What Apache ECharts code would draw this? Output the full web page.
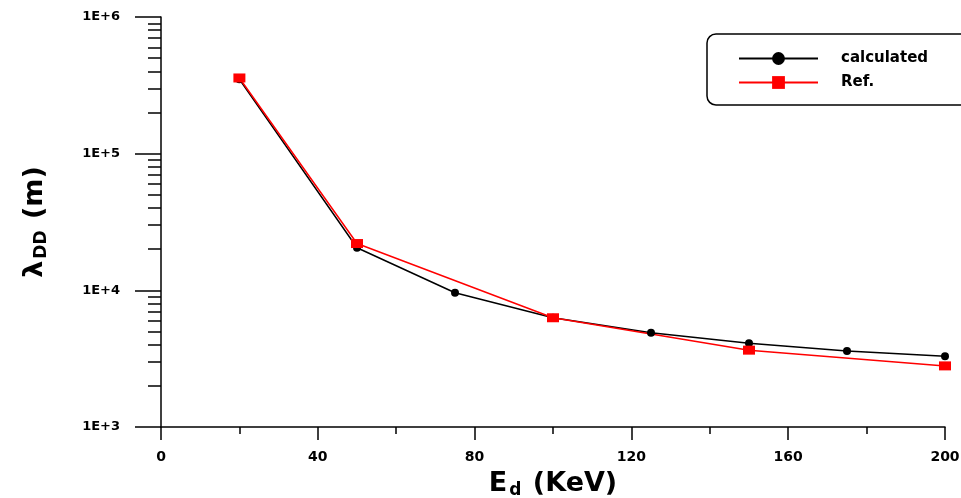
<!DOCTYPE html>
<html>
<head>
<meta charset="utf-8">
<script src="https://cdn.jsdelivr.net/npm/echarts@6/dist/echarts.min.js"></script>
<style>
  html, body {margin: 0; padding: 0; background: #fff;}
  #chart {width: 961px; height: 498px;}
</style>
</head>
<body>
<div id="chart"></div>
<script>
// energy (KeV) and lambda_DD (m)
const calcE = [20, 50, 75, 100, 125, 150, 175, 200];
const calcVal = [3.5e5, 2.05e4, 9.6e3, 6.3e3, 4.9e3, 4.1e3, 3.6e3, 3.3e3];
const refE = [20, 50, 100, 150, 200];
const refVal = [3.58e5, 2.2e4, 6.3e3, 3.65e3, 2.8e3];
const seriesNames = ['calculated', 'Ref.'];

// minor ticks of the log axis, 2..9 in each decade (log10 space)
const minorLog = [];
for (let d = 3; d < 6; d++) {
  for (let k = 2; k <= 9; k++) minorLog.push(d + Math.log10(k));
}

const font = 'DejaVu Sans';
const nameRich = {
  a: {fontFamily: font, fontWeight: 'bold', fontSize: 27, color: '#000', lineHeight: 32},
  b: {fontFamily: font, fontWeight: 'bold', fontSize: 17, color: '#000', lineHeight: 17, padding: [13, 2, 0, 2]}
};
const chart = echarts.init(document.getElementById('chart'));
chart.setOption({
  animation: false,
  grid: {left: 161, right: 16, top: 17, bottom: 71, outerBoundsMode: 'none'},
  legend: {
    orient: 'vertical',
    left: 707, top: 34,
    padding: [17, 80, 15, 31],
    itemWidth: 79, itemHeight: 16, itemGap: 9,
    borderColor: '#000', borderWidth: 1.5, borderRadius: 9,
    textStyle: {fontFamily: font, fontWeight: 'bold', fontSize: 15, color: '#000', padding: [0, 0, 0, 18]},
    data: seriesNames
  },
  xAxis: {
    type: 'value', min: 0, max: 200, interval: 40,
    name: '{a|E}{b|d}{a| (KeV)}',
    nameLocation: 'middle', nameGap: 38,
    nameTextStyle: {rich: nameRich},
    axisLine: {lineStyle: {color: '#000', width: 1.5}},
    axisTick: {length: 13, lineStyle: {width: 1.5}},
    minorTick: {show: true, splitNumber: 2, length: 7, lineStyle: {color: '#000', width: 1.5}},
    axisLabel: {margin: 23, fontFamily: font, fontWeight: 'bold', fontSize: 14, color: '#000'},
    splitLine: {show: false}
  },
  yAxis: [{
    type: 'log', logBase: 10, min: 1000, max: 1e6,
    name: '{a|λ}{b|DD}{a| (m)}',
    nameLocation: 'middle', nameRotate: 90, nameGap: 110,
    nameTextStyle: {rich: nameRich},
    axisLine: {lineStyle: {color: '#000', width: 1.5}},
    axisTick: {length: 26, lineStyle: {width: 1.5}},
    axisLabel: {
      margin: 41, fontFamily: font, fontWeight: 'bold', fontSize: 13, color: '#000',
      formatter: v => '1E+' + Math.round(Math.log10(v))
    },
    splitLine: {show: false}
  }, {
    // overlay axis only for the minor log ticks
    type: 'value', min: 3, max: 6, position: 'left',
    axisLine: {show: false},
    axisTick: {show: true, length: 13, customValues: minorLog, lineStyle: {color: '#000', width: 1.5}},
    axisLabel: {show: false},
    splitLine: {show: false}
  }],
  series: [{
    name: seriesNames[0], type: 'line',
    data: calcE.map((e, i) => [e, calcVal[i]]),
    symbol: 'circle', symbolSize: 8,
    itemStyle: {color: '#000'},
    lineStyle: {color: '#000', width: 1.5}
  }, {
    name: seriesNames[1], type: 'line',
    data: refE.map((e, i) => [e, refVal[i]]),
    symbol: 'rect', symbolSize: [12, 9],
    itemStyle: {color: '#ff0000'},
    lineStyle: {color: '#ff0000', width: 1.5}
  }]
});
</script>
</body>
</html>
